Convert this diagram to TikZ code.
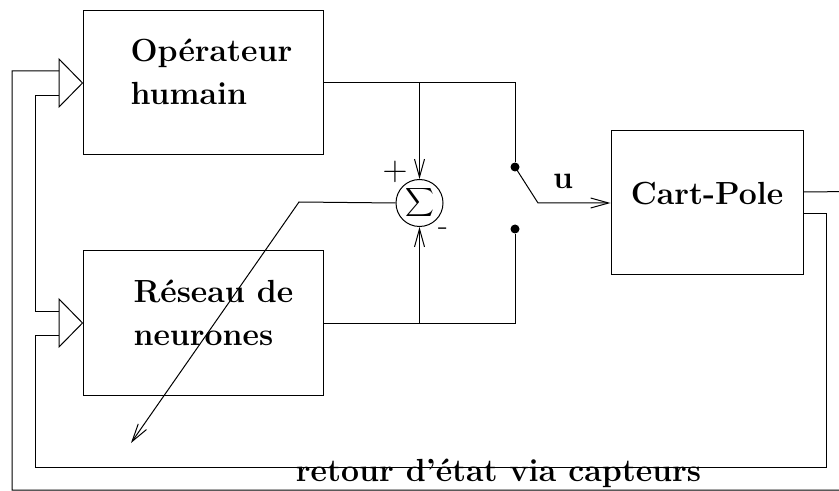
\documentclass[tikz,border=0pt]{standalone}
\usetikzlibrary{positioning, arrows.meta}

\tikzset{
  blockbox/.style={draw, line width=0.5pt, minimum width=120pt, minimum height=72pt, inner sep=0pt},
  boxtext/.style={font=\fontsize{16}{21.5}\selectfont\bfseries, align=left, inner sep=0pt},
  swdot/.style={circle, fill, inner sep=0pt, minimum size=4.5pt},
  barb/.style={-{Straight Barb[length=9pt, width=5pt]}},
}

\begin{document}
\begin{tikzpicture}[x=0.5pt, y=-0.5pt, line width=0.5pt]
  \useasboundingbox (0,0) rectangle (839,491);

  % Blocks
  \node[blockbox] (op) at (203,83) {};
  \node[blockbox] (rn) at (203,323) {};
  \node[blockbox, minimum width=96pt] (cp) at (707,203) {};
  \node[boxtext, anchor=base west] (optext) at (130,105) {Opérateur\\humain};
  \node[boxtext, anchor=base west] (rntext) at (133,345) {Réseau de\\neurones};
  \node[boxtext, anchor=base] (cptext) at (707,205) {Cart-Pole};

  % Summing junction
  \node[draw, circle, minimum size=23.5pt, inner sep=0pt] (sum) at (419.5,203)
    {\fontsize{12}{12}\selectfont$\displaystyle\sum$};
  \node[font=\fontsize{16}{16}\selectfont, inner sep=0pt] (plus) at (395,172) {$+$};
  \node[font=\fontsize{16}{16}\selectfont, inner sep=0pt] (minus) at (443,232) {-};

  % Switch
  \node[swdot] (s1) at (515,167) {};
  \node[swdot] (s2) at (515,229) {};
  \coordinate (sw) at (538,203);
  \node[boxtext, anchor=base] (ulabel) at (563,189) {u};

  % Input triangles
  \draw (59,59) -- (op.west) -- (59,107) -- cycle;
  \draw (59,299) -- (rn.west) -- (59,347) -- cycle;

  \coordinate (opin1) at (59,71);
  \coordinate (opin2) at (59,96);
  \coordinate (rnin1) at (59,311);
  \coordinate (rnin2) at (59,335);

  % Controller outputs
  \coordinate (j1) at (419.5,83);
  \coordinate (j2) at (515,83);
  \coordinate (j3) at (419.5,323);
  \coordinate (j4) at (515,323);
  \draw (op.east) -- (j2) -- (s1);
  \draw[barb] (j1) -- (sum.north);
  \draw (rn.east) -- (j4) -- (s2);
  \draw[barb] (j3) -- (sum.south);
  \draw[barb] (s1.center) -- (sw) -- (cp.west);

  % Error to learning
  \coordinate (k1) at (299,202);
  \coordinate (k2) at (131,443);
  \draw[barb] (sum.west) -- (k1) -- (k2);

  % Feedback loops
  \draw ([yshift=5.5pt]cp.east) -- (900,191) -- (900,490) -- (12,490) -- (12,71) -- (opin1);
  \draw ([yshift=-5.5pt]cp.east) -- (826,214) -- (826,467) -- (35,467) -- (35,335) -- (rnin2);
  \draw (opin2) -- (35,96) -- (35,311) -- (rnin1);

  \node[boxtext, anchor=base] (fbtext) at (498.5,481) {retour d'état via capteurs};
\end{tikzpicture}
\end{document}
